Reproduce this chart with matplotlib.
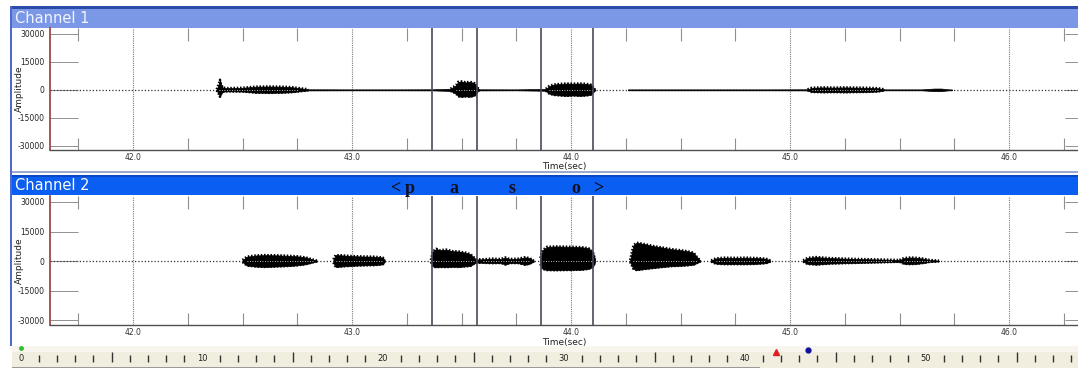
import numpy as np
import matplotlib
matplotlib.use("Agg")
import matplotlib.pyplot as plt
from matplotlib.patches import Rectangle
import matplotlib.transforms as mtransforms

# ---- waveform envelopes (time in sec, upper / lower amplitude) ----
ch1_bursts = [
    ([42.382, 42.393, 42.397, 42.402, 42.41, 42.43, 42.50, 42.56, 42.62, 42.68, 42.72, 42.76, 42.80],
     [300, 3500, 5400, 3000, 1200, 900, 1100, 1700, 1800, 1700, 1500, 900, 300],
     [-300, -2500, -3700, -2200, -1000, -800, -900, -1500, -1600, -1500, -1300, -800, -300]),
    ([42.80, 43.0, 43.2, 43.37, 43.45],
     [300, 250, 250, 300, 600],
     [-300, -250, -250, -300, -600]),
    ([43.45, 43.475, 43.485, 43.50, 43.52, 43.54, 43.56, 43.57, 43.58],
     [600, 2500, 4300, 4500, 4000, 4300, 3500, 1500, 300],
     [-600, -2000, -3500, -3700, -3500, -3700, -3000, -1200, -300]),
    ([43.58, 43.75, 43.885],
     [300, 250, 500],
     [-300, -250, -500]),
    ([43.885, 43.90, 43.92, 43.95, 43.98, 44.01, 44.04, 44.07, 44.09, 44.10, 44.11],
     [500, 2000, 2800, 3200, 3400, 3300, 3400, 3200, 2800, 1500, 300],
     [-500, -2000, -2700, -3000, -3200, -3000, -3200, -3000, -2600, -1400, -300]),
    ([44.26, 44.60, 44.90, 45.08],
     [250, 250, 250, 300],
     [-250, -250, -250, -300]),
    ([45.08, 45.10, 45.15, 45.20, 45.25, 45.30, 45.35, 45.40, 45.43],
     [300, 1100, 1300, 1200, 1300, 1200, 1100, 900, 300],
     [-300, -1100, -1300, -1200, -1300, -1200, -1100, -900, -300]),
    ([45.43, 45.60, 45.66, 45.69, 45.72, 45.74],
     [250, 250, 700, 700, 300, 200],
     [-250, -250, -700, -700, -300, -200]),
]

ch2_bursts = [
    ([42.50, 42.52, 42.56, 42.60, 42.65, 42.70, 42.75, 42.79, 42.82, 42.84],
     [500, 2200, 2800, 3000, 2900, 2700, 2400, 1800, 800, 200],
     [-500, -2300, -2800, -3000, -2800, -2600, -2200, -1600, -700, -200]),
    ([42.915, 42.925, 42.95, 43.0, 43.05, 43.10, 43.14, 43.15],
     [800, 3000, 2900, 2500, 2300, 2200, 1800, 300],
     [-800, -3000, -2800, -2400, -2200, -2100, -1700, -300]),
    ([43.36, 43.37, 43.385, 43.40, 43.43, 43.46, 43.49, 43.52, 43.54, 43.555, 43.565],
     [500, 5000, 6200, 5500, 5800, 5000, 4800, 4200, 3500, 2000, 800],
     [-500, -2800, -3200, -3000, -3100, -2900, -3000, -2700, -2500, -1500, -800]),
    ([43.565, 43.60, 43.64, 43.68, 43.70, 43.72, 43.76, 43.79, 43.81, 43.83],
     [800, 900, 1200, 1000, 1800, 1000, 1200, 1900, 1500, 300],
     [-800, -900, -1100, -1000, -1800, -1000, -1100, -1900, -1400, -300]),
    ([43.86, 43.87, 43.89, 43.93, 43.97, 44.01, 44.05, 44.08, 44.10, 44.11],
     [1500, 5500, 7200, 7400, 7300, 7200, 7000, 6500, 4500, 800],
     [-1500, -4000, -4600, -4700, -4600, -4500, -4400, -4000, -3000, -600]),
    ([44.27, 44.285, 44.30, 44.34, 44.38, 44.42, 44.46, 44.50, 44.53, 44.56, 44.575, 44.59],
     [500, 8000, 9300, 8500, 7500, 6800, 6000, 5500, 5000, 4200, 2000, 300],
     [-500, -4000, -4600, -4000, -3500, -3000, -2600, -2400, -2200, -1800, -1000, -300]),
    ([44.64, 44.66, 44.70, 44.75, 44.80, 44.85, 44.89, 44.91],
     [300, 1300, 1700, 1600, 1700, 1500, 1200, 300],
     [-300, -1300, -1600, -1600, -1600, -1400, -1100, -300]),
    ([45.06, 45.08, 45.12, 45.18, 45.25, 45.32, 45.40, 45.47, 45.50],
     [300, 1600, 2000, 1500, 1200, 1000, 800, 600, 500],
     [-300, -1500, -1800, -1300, -1100, -900, -700, -500, -400]),
    ([45.50, 45.52, 45.55, 45.58, 45.61, 45.64, 45.68],
     [500, 1500, 1800, 1600, 1200, 500, 200],
     [-400, -1400, -1600, -1400, -1000, -400, -200]),
]

# segment boundaries and phone labels
boundaries = [43.365, 43.571, 43.863, 44.100]
phones = ["<", "p", "a", "s", "o", ">"]
phone_t = [43.196, 43.262, 43.466, 43.731, 44.023, 44.123]

yticks = [30000, 15000, 0, -15000, -30000]
sec_ticks = [42.0, 43.0, 44.0, 45.0, 46.0]
ruler_labels = [0, 10, 20, 30, 40, 50]

W, H = 1078, 370
fig = plt.figure(figsize=(W / 100, H / 100), dpi=100)
fig.patch.set_facecolor("white")


def box(x0, y0, x1, y1):
    return [x0 / W, 1 - y1 / H, (x1 - x0) / W, (y1 - y0) / H]


def rect(x0, y0, x1, y1, **kw):
    fig.add_artist(Rectangle((x0 / W, 1 - y1 / H), (x1 - x0) / W, (y1 - y0) / H,
                             transform=fig.transFigure, lw=0, zorder=-5, **kw))


# window chrome
rect(10, 6, W, 9, color="#2c4aa8")
rect(10, 6, 12, 346, color="#4a6ad0")
rect(12, 9, W, 28, color="#7b98e6")
rect(12, 171, W, 173, color="#9aaad0")
rect(12, 175, W, 177, color="#0848c8")
rect(12, 177, W, 195, color="#0b5ef2")
rect(12, 346, W, 368, color="#f1eee0")
rect(12, 346, W, 352, color="#f7f5ee")
rect(12, 367, 760, 368, color="#9a9a9a")
fig.text(15 / W, 1 - 18.5 / H, "Channel 1", color="#f2f5ff", fontsize=10.5, va="center")
fig.text(15 / W, 1 - 186 / H, "Channel 2", color="white", fontsize=10.5, va="center")


def channel(rect_px, ylim, bursts):
    ax = fig.add_axes(box(*rect_px))
    ax.set_facecolor("none")
    ax.set_xlim(41.621, 46.315)
    ax.set_ylim(*ylim)
    for sp in ["top", "right"]:
        ax.spines[sp].set_visible(False)
    ax.spines["left"].set_color("#a04848")
    ax.spines["left"].set_linewidth(1.3)
    ax.spines["bottom"].set_color("#505050")
    ax.spines["bottom"].set_linewidth(1.0)

    ax.set_xticks(sec_ticks)
    ax.set_xticklabels([f"{v:.1f}" for v in sec_ticks])
    ax.set_xticks(np.arange(41.75, 46.3, 0.25), minor=True)
    ax.tick_params(axis="x", which="major", length=0, labelsize=5.5, pad=2, colors="#333333")
    ax.tick_params(axis="x", which="minor", direction="in", length=9, width=0.8,
                   color="#909090", top=True, bottom=True)
    ax.set_yticks(yticks)
    ax.set_yticklabels([str(v) for v in yticks])
    ax.tick_params(axis="y", direction="in", length=20, width=0.7, color="#909090",
                   labelsize=5.5, pad=4, labelcolor="#222222")
    ax.set_xlabel("Time(sec)", fontsize=6.5, color="#222222")
    ax.xaxis.set_label_coords(0.5, -0.1)
    ax.set_ylabel("Amplitude", fontsize=6.5, color="#222222")
    ax.yaxis.set_label_coords((24 - 50) / (W - 50), 0.5)

    # whole-second grid, right-hand tick stubs, zero line
    for t in sec_ticks:
        ax.axvline(t, color="#7a7a7a", lw=0.8, ls=(0, (1, 1)), zorder=1)
    ax.hlines(yticks, 46.255, 46.33, color="#909090", lw=0.7, clip_on=False)
    ax.axhline(0, color="#333333", lw=0.9, ls=(0, (1, 1.6)), zorder=2)

    for t, hi, lo in bursts:
        ax.fill_between(t, lo, hi, color="black", lw=0.5, zorder=3)
        if max(hi) > 1000:
            # beaded edges of the envelope, white zero line through the burst
            ax.plot(t, hi, color="black", lw=1.8, ls=(0, (0.6, 0.7)), zorder=3)
            ax.plot(t, lo, color="black", lw=1.8, ls=(0, (0.6, 0.7)), zorder=3)
            ax.plot([t[1], t[-2]], [0, 0], color="white", lw=0.6, ls=(0, (1, 2)), zorder=3.5)

    for b in boundaries:
        ax.axvline(b, color="#4a4a5a", lw=1.2, zorder=4)
    return ax


ax1 = channel((50, 28, W, 150), (-32300, 33200), ch1_bursts)
ax2 = channel((50, 196, W, 325), (-32540, 33050), ch2_bursts)

trans = mtransforms.blended_transform_factory(ax2.transData, ax2.transAxes)
for s, t in zip(phones, phone_t):
    ax2.text(t, 1.06, s, transform=trans, ha="center", va="center", fontsize=13,
             fontweight="bold", family="Liberation Serif", color="#101020", clip_on=False)

# time ruler along the bottom
axr = fig.add_axes(box(12, 346, W, 368))
axr.set_xlim((12 - 21) / 18.1, (W - 21) / 18.1)
axr.set_ylim(0, 1)
axr.axis("off")
ticks = [v for v in range(1, 59) if v % 10 != 0]
long_ticks = [v for v in ticks if v % 5 == 0]
short_ticks = [v for v in ticks if v % 5 != 0]
axr.vlines(short_ticks, 0.27, 0.58, color="#333333", lw=1.0)
axr.vlines(long_ticks, 0.27, 0.72, color="#333333", lw=1.0)
for v in ruler_labels:
    axr.text(v, 0.45, str(v), ha="center", va="center", fontsize=6, color="#222222")
axr.plot([0], [0.9], marker="o", ms=2.5, color="#30c030")
axr.plot([41.7], [0.75], marker="^", ms=4, color="#e02020")
axr.plot([43.5], [0.82], marker="o", ms=3.5, color="#1010a0")

fig.savefig("out.png", dpi=100)
